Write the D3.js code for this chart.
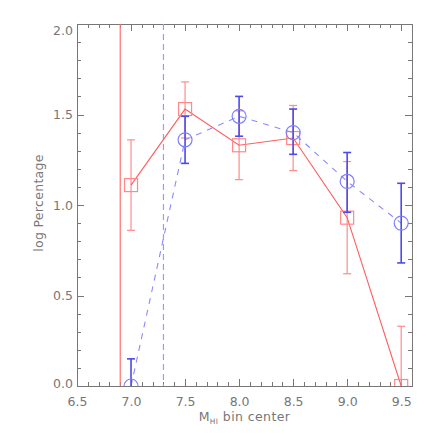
<!DOCTYPE html>
<html>
<head>
<meta charset="utf-8">
<script src="https://cdn.jsdelivr.net/npm/d3@7"></script>
<style>
  body { margin: 0; background: #fff; }
  svg text { font-family: "DejaVu Sans", sans-serif; fill: #777; }
  .axis path, .axis line { stroke: #777; shape-rendering: crispEdges; }
</style>
</head>
<body>
<div id="chart"></div>
<script>
// bin centers (log M_HI)
const binCenters = [7.0, 7.5, 8.0, 8.5, 9.0, 9.5]

// red sample (squares, solid line)
const redValues = [1.11, 1.53, 1.33, 1.37, 0.93, 0.00]
const redLow    = [0.86, 1.37, 1.14, 1.19, 0.62, 0.00]
const redHigh   = [1.36, 1.68, 1.52, 1.55, 1.24, 0.33]

// blue sample (circles, dashed line)
const blueValues = [0.00, 1.36, 1.49, 1.40, 1.13, 0.90]
const blueLow    = [0.00, 1.23, 1.38, 1.28, 0.96, 0.68]
const blueHigh   = [0.15, 1.49, 1.60, 1.53, 1.29, 1.12]

// completeness limits
const redLimit  = 6.9
const blueLimit = 7.3

const xTicks = [6.5, 7.0, 7.5, 8.0, 8.5, 9.0, 9.5]
const yTicks = [0.0, 0.5, 1.0, 1.5, 2.0]

let margin = {top: 24, right: 24, bottom: 50, left: 77}
let width  = 436 - margin.left - margin.right
let height = 436 - margin.top - margin.bottom

let x = d3.scaleLinear().domain([6.5, 9.6]).range([0, width])
let y = d3.scaleLinear().domain([0, 2]).range([height, 0])

let svg = d3.select("#chart")
  .append("svg")
  .attr("width", 436)
  .attr("height", 436)
  .append("g")
  .attr("transform", "translate(" + margin.left + "," + margin.top + ")")

svg.append("clipPath")
  .attr("id", "plot-clip")
  .append("rect")
  .attr("width", width)
  .attr("height", height)

// minor ticks every 0.1, majors every 0.5
let xMinor = d3.range(6.5, 9.61, 0.1).filter(function(d){ return Math.abs(d * 2 - Math.round(d * 2)) > 0.01 })
let yMinor = d3.range(0, 2.01, 0.1).filter(function(d){ return Math.abs(d * 2 - Math.round(d * 2)) > 0.01 })

function drawAxis(axis, transform, labels) {
  let g = svg.append("g").attr("class", "axis").attr("transform", transform).call(axis)
  g.select(".domain").remove()
  if (!labels) { g.selectAll("text").remove() }
  return g
}

let fmt = d3.format(".1f")

let xAxis = drawAxis(d3.axisBottom(x).tickValues(xTicks).tickSize(-7).tickPadding(11).tickFormat(fmt),
  "translate(0," + height + ")", true)
drawAxis(d3.axisBottom(x).tickValues(xMinor).tickSize(-4).tickFormat(""), "translate(0," + height + ")", false)
drawAxis(d3.axisTop(x).tickValues(xTicks).tickSize(-7), "translate(0,0)", false)
drawAxis(d3.axisTop(x).tickValues(xMinor).tickSize(-4), "translate(0,0)", false)

let yAxis = drawAxis(d3.axisLeft(y).tickValues(yTicks).tickSize(-7).tickPadding(4).tickFormat(fmt),
  "translate(0,0)", true)
drawAxis(d3.axisLeft(y).tickValues(yMinor).tickSize(-4), "translate(0,0)", false)
drawAxis(d3.axisRight(y).tickValues(yTicks).tickSize(-7), "translate(" + width + ",0)", false)
drawAxis(d3.axisRight(y).tickValues(yMinor).tickSize(-4), "translate(" + width + ",0)", false)

xAxis.selectAll("text").style("font-size", "12.5px").attr("fill", "#777")
yAxis.selectAll("text").style("font-size", "12.5px").attr("fill", "#777")
  .attr("dy", function(d){ return d == 2 ? "0.8em" : (d == 0 ? "0.1em" : "0.35em") })

// frame
svg.append("rect")
  .attr("width", width)
  .attr("height", height)
  .attr("fill", "none")
  .attr("stroke", "#777")
  .attr("shape-rendering", "crispEdges")

let plot = svg.append("g").attr("clip-path", "url(#plot-clip)")

// limit lines
plot.append("line")
  .attr("x1", x(redLimit)).attr("x2", x(redLimit))
  .attr("y1", 0).attr("y2", height)
  .attr("stroke", "#ff7070").attr("stroke-width", 1.2)

plot.append("line")
  .attr("x1", x(blueLimit)).attr("x2", x(blueLimit))
  .attr("y1", 0).attr("y2", height)
  .attr("stroke", "#9a9aff").attr("stroke-width", 1.2)
  .attr("stroke-dasharray", "6,4")

let line = d3.line()
  .x(function(d){ return x(d[0]) })
  .y(function(d){ return y(d[1]) })

let red  = binCenters.map(function(c, i){ return [c, redValues[i], redLow[i], redHigh[i]] })
let blue = binCenters.map(function(c, i){ return [c, blueValues[i], blueLow[i], blueHigh[i]] })

function errorBars(data, color, w) {
  let g = plot.append("g").attr("stroke", color).attr("stroke-width", w)
  data.forEach(function(d){
    g.append("line").attr("x1", x(d[0])).attr("x2", x(d[0])).attr("y1", y(d[2])).attr("y2", y(d[3]))
    g.append("line").attr("x1", x(d[0]) - 4).attr("x2", x(d[0]) + 4).attr("y1", y(d[3])).attr("y2", y(d[3]))
    if (d[2] > 0) {
      g.append("line").attr("x1", x(d[0]) - 4).attr("x2", x(d[0]) + 4).attr("y1", y(d[2])).attr("y2", y(d[2]))
    }
  })
}

// red sample
errorBars(red, "#ff8c8c", 1.2)
plot.append("path")
  .datum(red)
  .attr("d", line)
  .attr("fill", "none")
  .attr("stroke", "#ff5c5c")
  .attr("stroke-width", 1.1)

plot.selectAll(".square")
  .data(red)
  .enter()
  .append("rect")
  .attr("x", function(d){ return x(d[0]) - 6.5 })
  .attr("y", function(d){ return y(d[1]) - 6.5 })
  .attr("width", 13)
  .attr("height", 13)
  .attr("fill", "none")
  .attr("stroke", "#ff8888")
  .attr("stroke-width", 1.2)

// blue sample
plot.append("path")
  .datum(blue)
  .attr("d", line)
  .attr("fill", "none")
  .attr("stroke", "#8a8aff")
  .attr("stroke-width", 1.1)
  .attr("stroke-dasharray", "6,6")

errorBars(blue, "#4a4aee", 1.6)

plot.selectAll(".circle")
  .data(blue)
  .enter()
  .append("circle")
  .attr("cx", function(d){ return x(d[0]) })
  .attr("cy", function(d){ return y(d[1]) })
  .attr("r", 7)
  .attr("fill", "none")
  .attr("stroke", "#7f7fff")
  .attr("stroke-width", 1.2)

// axis titles
let xTitle = svg.append("text")
  .attr("x", width / 2)
  .attr("y", height + 35)
  .attr("text-anchor", "middle")
  .style("font-size", "12.5px")
  .style("letter-spacing", "0.4px")
xTitle.append("tspan").text("M")
xTitle.append("tspan").attr("dy", 3).style("font-size", "7.5px").text("HI")
xTitle.append("tspan").attr("dy", -3).text(" bin center")

svg.append("text")
  .attr("transform", "translate(" + (-34) + "," + (height / 2 - 2) + ") rotate(-90)")
  .attr("text-anchor", "middle")
  .style("font-size", "12.5px")
  .style("letter-spacing", "0.3px")
  .text("log Percentage")
</script>
</body>
</html>
